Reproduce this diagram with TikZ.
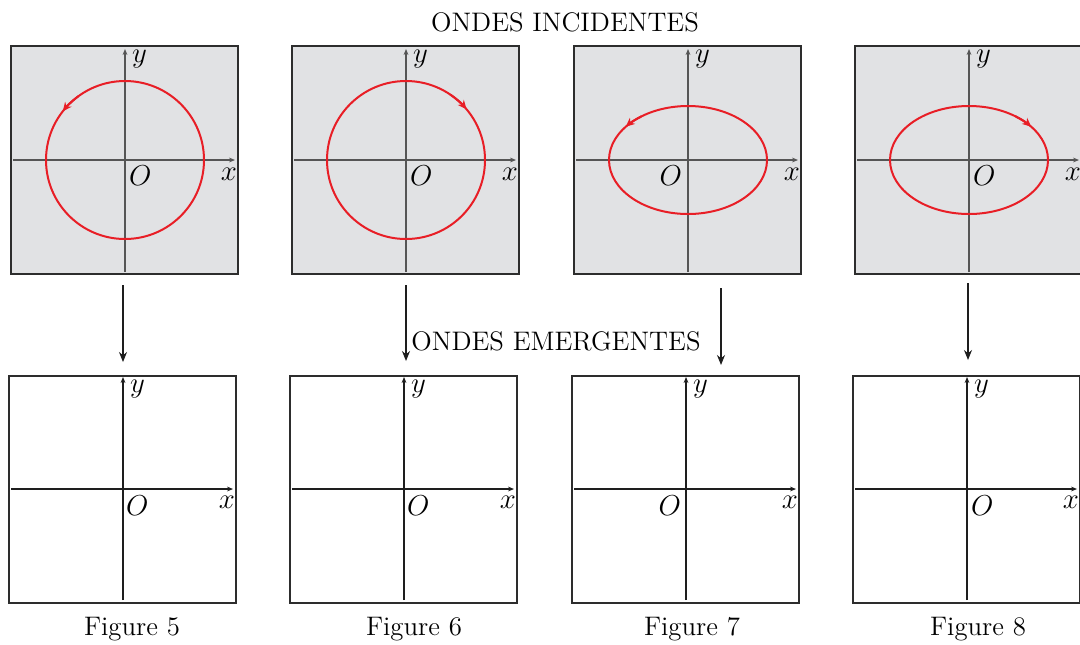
\documentclass[tikz,border=0pt]{standalone}
\usetikzlibrary{arrows.meta,calc}
\definecolor{panelgray}{RGB}{225,226,228}
\definecolor{axisgray}{RGB}{85,85,85}
\definecolor{wavered}{RGB}{232,30,38}
\definecolor{boxline}{RGB}{45,45,45}
\definecolor{inkdark}{RGB}{30,30,30}
\begin{document}
\begin{tikzpicture}[x=0.5pt,y=0.5pt,
  font=\fontsize{13.4}{16}\selectfont,
  incbox/.style={draw=boxline, fill=panelgray, line width=0.55pt,
    minimum width=113.5pt, minimum height=114pt, inner sep=0pt, outer sep=0pt},
  emebox/.style={draw=boxline, fill=white, line width=0.55pt,
    minimum width=113.5pt, minimum height=113.5pt, inner sep=0pt, outer sep=0pt},
  axisline/.style={line width=0.55pt, -{Stealth[length=3pt,width=2.4pt]}},
  wave/.style={wavered, line width=1pt},
  wavetip/.style={wavered, line width=1pt, -{Stealth[length=4.5pt,width=4pt]}},
  conn/.style={inkdark, line width=0.6pt, -{Stealth[length=5pt,width=4pt]}},
  lab/.style={inner sep=0pt, outer sep=0pt}]
\useasboundingbox (0,0) rectangle (1080,-644);
\clip (0,0) rectangle (1080,-644);

% titles
\node[lab, anchor=base] (tinc) at (565,-31) {ONDES INCIDENTES};

% incident panels
\foreach \i/\L/\oa/\ox in {1/11/{base west}/4, 2/292/{base west}/4, 3/574/{base east}/-6, 4/855/{base west}/4}{
  \node[incbox, anchor=north west] (in\i) at (\L,-46) {};
  \coordinate (oi\i) at (\L+114,-160);
  \draw[axisline, axisgray] ($(oi\i)+(-112,0)$) -- ($(oi\i)+(110,0)$);
  \draw[axisline, axisgray] ($(oi\i)+(0,-112)$) -- ($(oi\i)+(0,111)$);
  \node[lab, anchor=base west] (yi\i) at ($(oi\i)+(7,98)$) {$y$};
  \node[lab, anchor=base east] (xi\i) at ($(oi\i)+(112,-20)$) {$x$};
  \node[lab, anchor=\oa] (Oi\i) at ($(oi\i)+(\ox,-25)$) {$O$};
}

% incident waves
\draw[wave] (oi1) circle[radius=39.5pt];
\draw[wavetip] ($(oi1)+(126:39.5pt)$) arc[start angle=126, end angle=142, radius=39.5pt];
\draw[wave] (oi2) circle[radius=39.5pt];
\draw[wavetip] ($(oi2)+(56:39.5pt)$) arc[start angle=56, end angle=40, radius=39.5pt];
\draw[wave] (oi3) ellipse[x radius=39.5pt, y radius=27pt];
\draw[wavetip] ($(oi3)+(126:39.5pt and 27pt)$) arc[start angle=126, end angle=142, x radius=39.5pt, y radius=27pt];
\draw[wave] (oi4) ellipse[x radius=39.5pt, y radius=27pt];
\draw[wavetip] ($(oi4)+(54:39.5pt and 27pt)$) arc[start angle=54, end angle=38, x radius=39.5pt, y radius=27pt];

% connectors
\coordinate (a1s) at (123,-285); \coordinate (a1e) at (123,-362);
\coordinate (a2s) at (406,-285); \coordinate (a2e) at (406,-361);
\coordinate (a3s) at (721,-288); \coordinate (a3e) at (721,-365);
\coordinate (a4s) at (968,-283); \coordinate (a4e) at (968,-360);
\draw[conn] (a1s) -- (a1e);
\draw[conn] (a2s) -- (a2e);
\draw[conn] (a3s) -- (a3e);
\draw[conn] (a4s) -- (a4e);

\node[lab, anchor=base] (teme) at (556,-350) {ONDES EMERGENTES};

% emergent panels
\foreach \i/\L/\oa/\ox/\cx in {1/9/{base west}/3/132, 2/290/{base west}/3/414, 3/572/{base east}/-5/692, 4/853/{base west}/4/978}{
  \node[emebox, anchor=north west] (em\i) at (\L,-376) {};
  \coordinate (oe\i) at (\L+114,-489);
  \draw[axisline, inkdark] ($(oe\i)+(-112,0)$) -- ($(oe\i)+(110,0)$);
  \draw[axisline, inkdark] ($(oe\i)+(0,-111)$) -- ($(oe\i)+(0,112)$);
  \node[lab, anchor=base west] (ye\i) at ($(oe\i)+(7,97)$) {$y$};
  \node[lab, anchor=base east] (xe\i) at ($(oe\i)+(112,-19)$) {$x$};
  \node[lab, anchor=\oa] (Oe\i) at ($(oe\i)+(\ox,-26)$) {$O$};
  \node[lab, anchor=base] (cap\i) at (\cx,-635) {Figure \the\numexpr\i+4\relax};
}
\end{tikzpicture}
\end{document}
